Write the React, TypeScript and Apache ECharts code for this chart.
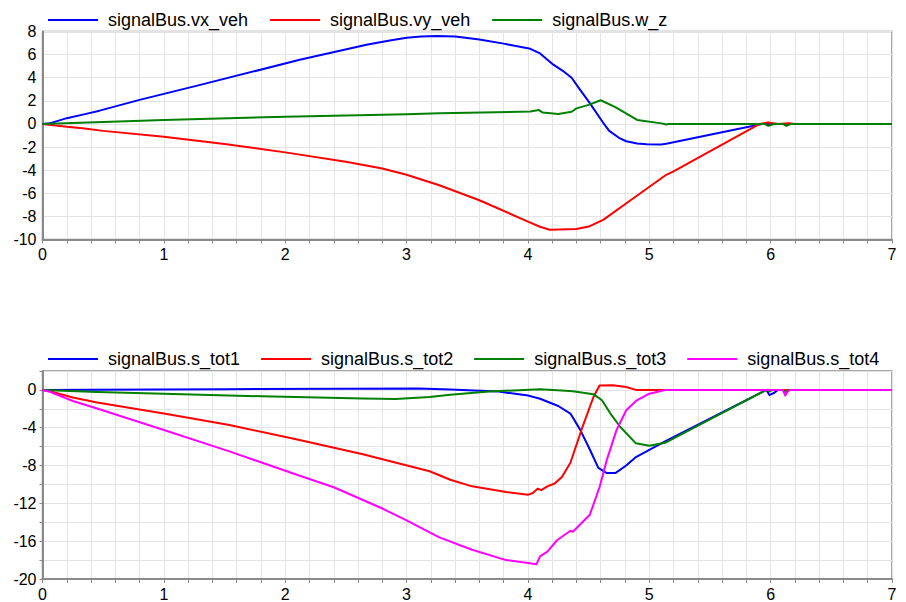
import React, { useEffect, useRef } from "react";
import * as echarts from "echarts";

// ---- data (time [s], value) ----
const vxVeh: [number, number][] = [
  [0, 0], [0.06, 0.05], [0.2, 0.5], [0.35, 0.85], [0.47, 1.15], [0.8, 2.08], [1.3, 3.38],
  [2.12, 5.55], [2.67, 6.85], [2.85, 7.2], [3.0, 7.45], [3.12, 7.56], [3.25, 7.6], [3.4, 7.57],
  [3.6, 7.3], [3.8, 6.95], [4.02, 6.5], [4.1, 6.1], [4.2, 5.2], [4.3, 4.5], [4.36, 4.0],
  [4.42, 3.1], [4.51, 1.8], [4.62, 0.1], [4.67, -0.6], [4.75, -1.2], [4.81, -1.5],
  [4.9, -1.7], [4.98, -1.76], [5.1, -1.78], [5.15, -1.7], [5.93, 0], [7, 0],
];
const vyVeh: [number, number][] = [
  [0, 0], [0.2, -0.25], [0.33, -0.38], [0.5, -0.6], [1.0, -1.1], [1.5, -1.73], [2.0, -2.46],
  [2.5, -3.27], [2.8, -3.85], [3.0, -4.4], [3.27, -5.3], [3.6, -6.6], [4.0, -8.45],
  [4.1, -8.9], [4.18, -9.15], [4.4, -9.1], [4.51, -8.85], [4.62, -8.3], [4.86, -6.5],
  [5.14, -4.4], [5.2, -4.1], [5.91, 0], [5.98, 0.12], [6.06, 0], [6.15, 0.06], [6.2, 0],
  [7, 0],
];
const wZ: [number, number][] = [
  [0, 0], [1, 0.35], [2, 0.63], [3, 0.84], [3.27, 0.93], [4.02, 1.07], [4.09, 1.2],
  [4.12, 1.0], [4.25, 0.87], [4.36, 1.05], [4.4, 1.35], [4.5, 1.65], [4.6, 2.05],
  [4.72, 1.45], [4.9, 0.35], [5.1, 0.05], [5.14, -0.05], [5.16, 0], [5.95, 0],
  [5.98, -0.17], [6.03, 0], [6.1, 0], [6.13, -0.17], [6.17, 0], [7, 0],
];

const sTot1: [number, number][] = [
  [0, 0], [0.4, 0.03], [1.5, 0.08], [2.5, 0.12], [3.1, 0.14], [3.36, 0.05], [3.76, -0.18],
  [4.0, -0.6], [4.1, -0.93], [4.25, -1.7], [4.35, -2.5], [4.43, -4.2], [4.51, -6.3],
  [4.58, -8.25], [4.65, -8.8], [4.72, -8.8], [4.81, -8.0], [4.89, -7.1], [5.13, -5.45],
  [5.965, 0], [5.99, -0.55], [6.03, -0.3], [6.06, 0], [7, 0],
];
const sTot2: [number, number][] = [
  [0, 0], [0.06, -0.15], [0.25, -0.8], [0.45, -1.34], [1.0, -2.5], [1.54, -3.72],
  [2.09, -5.22], [2.64, -6.8], [3.19, -8.6], [3.36, -9.5], [3.54, -10.2], [3.82, -10.8],
  [4.0, -11.1], [4.04, -10.9], [4.08, -10.45], [4.11, -10.6], [4.16, -10.2], [4.22, -9.9],
  [4.28, -9.2], [4.35, -7.7], [4.45, -3.9], [4.54, -0.75], [4.59, 0.47], [4.7, 0.5],
  [4.81, 0.3], [4.89, 0], [7, 0],
];
const sTot3: [number, number][] = [
  [0, 0], [0.45, -0.23], [1.0, -0.4], [1.81, -0.68], [2.64, -0.92], [2.91, -0.95],
  [3.19, -0.75], [3.36, -0.5], [3.68, -0.18], [4.1, 0.08], [4.31, -0.1], [4.37, -0.15],
  [4.54, -0.45], [4.61, -1.1], [4.68, -2.5], [4.76, -3.9], [4.89, -5.65], [5.0, -5.9],
  [5.13, -5.6], [5.965, 0], [5.99, -0.15], [6.02, 0], [6.1, 0], [6.12, -0.3], [6.15, 0],
  [7, 0],
];
const sTot4: [number, number][] = [
  [0, 0], [0.06, -0.2], [0.25, -1.17], [0.45, -1.97], [1.0, -4.24], [1.54, -6.5],
  [2.09, -8.95], [2.4, -10.3], [2.81, -12.6], [3.0, -13.8], [3.27, -15.6], [3.54, -16.9],
  [3.82, -18.0], [4.0, -18.3], [4.07, -18.45], [4.1, -17.6], [4.16, -17.1], [4.24, -15.9],
  [4.35, -14.9], [4.37, -15.0], [4.51, -13.2], [4.59, -10.3], [4.65, -7.4], [4.73, -4.25],
  [4.81, -2.15], [4.89, -1.17], [5.0, -0.4], [5.13, 0], [6.1, 0], [6.12, -0.6],
  [6.14, -0.2], [6.16, 0], [7, 0],
];

const topNames = ["signalBus.vx_veh", "signalBus.vy_veh", "signalBus.w_z"];
const bottomNames = ["signalBus.s_tot1", "signalBus.s_tot2", "signalBus.s_tot3", "signalBus.s_tot4"];
const topData = [vxVeh, vyVeh, wZ];
const bottomData = [sTot1, sTot2, sTot3, sTot4];
const colors = ["#0000ff", "#ff0000", "#008000", "#ff00ff"];

const FONT = "'Liberation Sans', Arial, sans-serif";
const AXIS_COLOR = "#8a8a8a";
const GRID_COLOR = "#e4e4e4";

function xAxisFor(gridIndex: number) {
  return {
    type: "value",
    gridIndex,
    min: 0,
    max: 7,
    interval: 1,
    axisLine: { show: true, onZero: false, lineStyle: { color: AXIS_COLOR, width: 2 } },
    axisTick: { show: true, length: 4, lineStyle: { color: AXIS_COLOR } },
    minorTick: { show: true, splitNumber: 5, length: 4, lineStyle: { color: AXIS_COLOR } },
    splitLine: { show: true, lineStyle: { color: GRID_COLOR, width: 1 } },
    minorSplitLine: { show: true, lineStyle: { color: GRID_COLOR, width: 1 } },
    axisLabel: { fontSize: 16, color: "#000", fontFamily: FONT, margin: 7 },
  };
}

function legendFor(names: string[], top: number, gap: number) {
  return {
    data: names,
    left: 43,
    top,
    itemWidth: 50,
    itemHeight: 2,
    itemGap: gap,
    icon: "rect",
    textStyle: { fontSize: 18, color: "#000", fontFamily: FONT, padding: [0, 0, 0, 5] },
  };
}

export default function App() {
  const ref = useRef<HTMLDivElement>(null);
  useEffect(() => {
    if (!ref.current) return;
    const chart = echarts.init(ref.current, undefined, { renderer: "svg" });
    const series: any[] = [];
    const mk = (n: string, d: [number, number][], i: number, ax: number) => ({
      name: n,
      type: "line",
      xAxisIndex: ax,
      yAxisIndex: ax,
      data: d,
      symbol: "none",
      showSymbol: false,
      lineStyle: { color: colors[i], width: 2, join: "round" },
      itemStyle: { color: colors[i] },
    });
    topNames.forEach((n, i) => series.push(mk(n, topData[i], i, 0)));
    bottomNames.forEach((n, i) => series.push(mk(n, bottomData[i], i, 1)));
    chart.setOption({
      animation: false,
      backgroundColor: "#fff",
      textStyle: { fontFamily: FONT },
      legend: [legendFor(topNames, 6, 22), legendFor(bottomNames, 345, 21)],
      grid: [
        { left: 42.5, right: 14, top: 31.5, height: 208, show: true, borderColor: AXIS_COLOR, borderWidth: 1.5, backgroundColor: "transparent" },
        { left: 42.5, right: 14, top: 371, height: 208, show: true, borderColor: AXIS_COLOR, borderWidth: 1.5, backgroundColor: "transparent" },
      ],
      xAxis: [xAxisFor(0), xAxisFor(1)],
      yAxis: [
        {
          type: "value",
          gridIndex: 0,
          min: -10,
          max: 8,
          interval: 2,
          axisLine: { show: true, onZero: false, lineStyle: { color: AXIS_COLOR, width: 2 } },
          axisTick: { show: false },
          splitLine: { show: true, lineStyle: { color: GRID_COLOR, width: 1 } },
          axisLabel: { fontSize: 16, color: "#000", fontFamily: FONT, margin: 6 },
        },
        {
          type: "value",
          gridIndex: 1,
          min: -20,
          max: 2,
          interval: 2,
          axisLine: { show: true, onZero: false, lineStyle: { color: AXIS_COLOR, width: 2 } },
          axisTick: { show: true, length: 3, lineStyle: { color: AXIS_COLOR } },
          splitLine: { show: true, lineStyle: { color: GRID_COLOR, width: 1 } },
          axisLabel: {
            fontSize: 16,
            color: "#000",
            fontFamily: FONT,
            margin: 6,
            formatter: (v: number) => (Math.round(v) % 4 === 0 && v <= 0 ? String(v) : ""),
          },
        },
      ],
      series,
    });
    return () => chart.dispose();
  }, []);
  return (
    <div
      ref={ref}
      style={{ position: "fixed", left: 0, top: 0, width: 906, height: 602, background: "#fff" }}
    />
  );
}
